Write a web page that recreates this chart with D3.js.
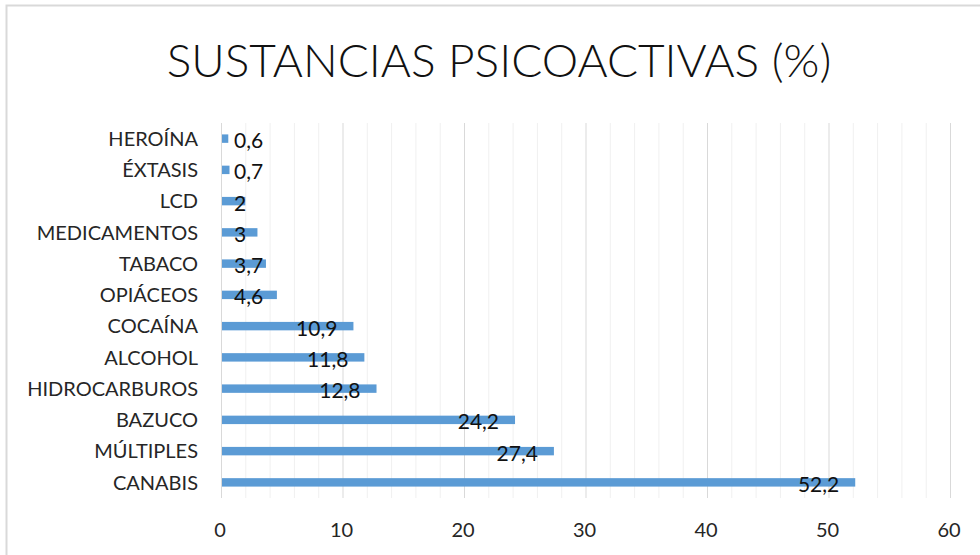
<!DOCTYPE html>
<html>
<head>
<meta charset="utf-8">
<script src="https://cdn.jsdelivr.net/npm/d3@7"></script>
<style>
  body { margin: 0; background: #fff; }
  svg { display: block; font-family: Lato, "Open Sans", sans-serif; }
</style>
</head>
<body>
<svg id="chart"></svg>
<script>
const categories = ['HEROÍNA', 'ÉXTASIS', 'LCD', 'MEDICAMENTOS', 'TABACO', 'OPIÁCEOS',
                    'COCAÍNA', 'ALCOHOL', 'HIDROCARBUROS', 'BAZUCO', 'MÚLTIPLES', 'CANABIS'];
const values = [0.6, 0.7, 2, 3, 3.7, 4.6, 10.9, 11.8, 12.8, 24.2, 27.4, 52.2];
const xTicks = [0, 10, 20, 30, 40, 50, 60];
const titleText = 'SUSTANCIAS PSICOACTIVAS (%)';

var width = 980,
    height = 555,
    margin = {top: 123, right: 30, bottom: 57, left: 221},
    barColor = '#5b9bd5',
    textColor = '#262626';

var svg = d3.select('#chart')
    .attr('width', width)
    .attr('height', height);

// chart frame
svg.append('rect')
    .attr('x', 6.5)
    .attr('y', 5.5)
    .attr('width', width + 20)
    .attr('height', height + 20)
    .attr('fill', '#fff')
    .attr('stroke', '#d9d9d9')
    .attr('stroke-width', 2);

var x = d3.scaleLinear()
    .domain([0, 60])
    .range([margin.left, 950]);

var y = d3.scaleBand()
    .domain(categories)
    .range([margin.top, height - margin.bottom])
    .paddingInner(0.73)
    .paddingOuter(0.365);

var yBand = d3.scaleBand()
    .domain(categories)
    .range([margin.top, height - margin.bottom]);

// minor + major gridlines
var minorTicks = d3.range(0, 61, 2);
svg.append('g')
    .selectAll('line')
    .data(minorTicks)
    .join('line')
    .attr('x1', d => x(d) + 0.5)
    .attr('x2', d => x(d) + 0.5)
    .attr('y1', margin.top)
    .attr('y2', height - margin.bottom)
    .attr('stroke', d => d % 10 === 0 ? '#d9d9d9' : '#f0f0f0')
    .attr('stroke-width', 1);

// bars
svg.append('g')
    .selectAll('rect')
    .data(values)
    .join('rect')
    .attr('x', x(0) + 1)
    .attr('y', (d, i) => y(categories[i]))
    .attr('width', d => x(d) - x(0) - 1)
    .attr('height', y.bandwidth())
    .attr('fill', barColor);

// category labels
svg.append('g')
    .selectAll('text')
    .data(categories)
    .join('text')
    .attr('x', 198)
    .attr('y', d => yBand(d) + yBand.bandwidth() / 2)
    .attr('dy', '0.36em')
    .attr('text-anchor', 'end')
    .attr('font-size', 20)
    .attr('fill', textColor)
    .text(d => d);

// x axis tick labels
svg.append('g')
    .selectAll('text')
    .data(xTicks)
    .join('text')
    .attr('x', d => x(d) - 1)
    .attr('y', 537)
    .attr('text-anchor', 'middle')
    .attr('font-size', 20)
    .attr('fill', textColor)
    .text(d => d);

// data labels: inside end, but never further left than the bar base
var labels = svg.append('g')
    .selectAll('text')
    .data(values)
    .join('text')
    .attr('y', (d, i) => yBand(categories[i]) + yBand.bandwidth() / 2 + 2)
    .attr('dy', '0.36em')
    .attr('font-size', 21)
    .attr('fill', '#111')
    .text(d => String(d).replace('.', ','));

labels.each(function (d) {
    var w = this.getComputedTextLength();
    var left = Math.max(x(d) - 16 - w, x(0) + 13);
    d3.select(this).attr('x', left);
});

// title
svg.append('text')
    .attr('x', 499)
    .attr('y', 77)
    .attr('text-anchor', 'middle')
    .attr('font-size', 46)
    .attr('font-weight', 300)
    .attr('fill', '#111')
    .text(titleText);
</script>
</body>
</html>
